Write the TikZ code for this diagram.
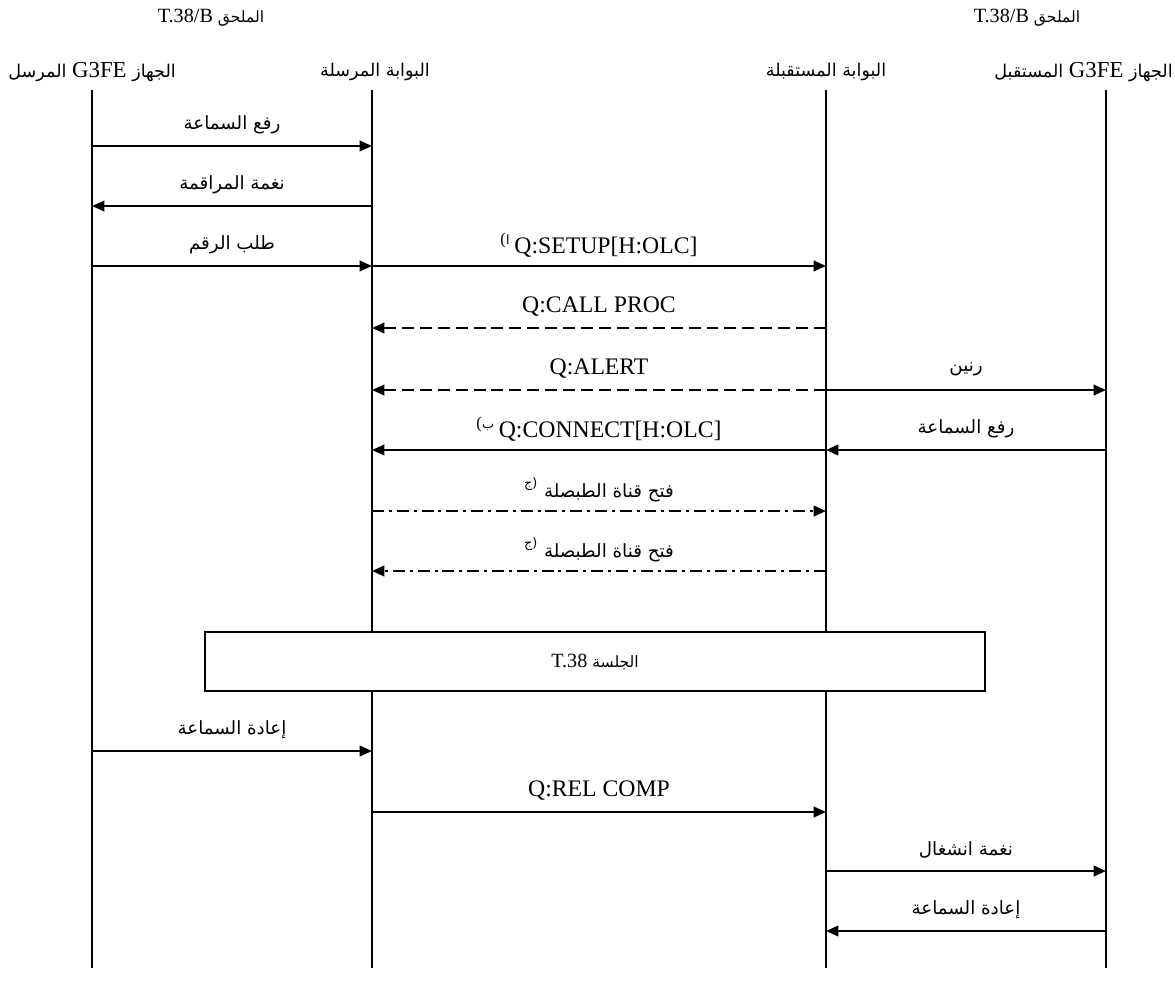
\documentclass[tikz,border=0pt]{standalone}
\usepackage{fontspec}
\setmainfont{Liberation Serif}
\newfontfamily\arabicfont[Script=Arabic,Scale=0.77]{DejaVu Sans}
\TeXXeTstate=1
\usetikzlibrary{arrows.meta}

\newcommand{\artext}[1]{{\arabicfont\beginR #1\endR}}
\newcommand{\fnmark}[1]{\textsuperscript{({\arabicfont #1}}}

\begin{document}
\begin{tikzpicture}[x=0.02cm,y=-0.02cm,font=\fontsize{13.5}{16}\selectfont,
    msg/.style={draw,line width=1.2pt,-{Triangle[length=7pt,width=6pt]}},
    reply/.style={msg,dash pattern=on 6.8pt off 3.4pt},
    chan/.style={msg,dash pattern=on 6.8pt off 2.8pt on 1.7pt off 2.8pt},
    lbl/.style={midway,yshift=12pt}]
  \useasboundingbox (0,0) rectangle (1175,992);

  % lifeline heads
  \begin{scope}[every node/.style={inner sep=0pt,font=\fontsize{13}{15}\selectfont}]
    \node[font=\fontsize{11.5}{14}\selectfont] (annexL) at (211,18) {\artext{الملحق {\rmfamily T.38/B}}};
    \node[font=\fontsize{11.5}{14}\selectfont] (annexR) at (1027,18) {\artext{الملحق {\rmfamily T.38/B}}};
    \node[anchor=west] (sender) at (8,72) {\artext{الجهاز {\rmfamily G3FE} المرسل}};
    \node (gwout) at (375,72) {\artext{البوابة المرسلة}};
    \node (gwin) at (826,72) {\artext{البوابة المستقبلة}};
    \node[anchor=east] (receiver) at (1173,72) {\artext{الجهاز {\rmfamily G3FE} المستقبل}};
  \end{scope}

  % lifelines and message rows
  \foreach \n/\x in {a/92,b/372,c/826,d/1106} {
    \coordinate (\n top) at (\x,90);
    \coordinate (\n bot) at (\x,968);
    \foreach \y [count=\i] in {146,206,266,328,390,450,511,571,751,812,871,931}
      \coordinate (\n\i) at (\x,\y);
  }
  \foreach \n in {a,b,c,d}
    \draw[line width=1pt] (\n top) -- (\n bot);

  % call setup
  \path (a1) edge[msg] node[lbl] {\artext{رفع السماعة}} (b1);
  \path (b2) edge[msg] node[lbl] {\artext{نغمة المراقمة}} (a2);
  \path (a3) edge[msg] node[lbl] {\artext{طلب الرقم}} (b3);
  \path (b3) edge[msg] node[lbl] {\fnmark{ا}\,Q:SETUP[H:OLC]} (c3);
  \path (c4) edge[reply] node[lbl] {Q:CALL PROC} (b4);
  \path (c5) edge[reply] node[lbl] {Q:ALERT} (b5);
  \path (c5) edge[msg] node[lbl] {\artext{رنين}} (d5);
  \path (c6) edge[msg] node[lbl] {\fnmark{ب}\,Q:CONNECT[H:OLC]} (b6);
  \path (d6) edge[msg] node[lbl] {\artext{رفع السماعة}} (c6);
  \path (b7) edge[chan] node[lbl] {\artext{فتح قناة الطبصلة \fnmark{ج}}} (c7);
  \path (c8) edge[chan] node[lbl] {\artext{فتح قناة الطبصلة \fnmark{ج}}} (b8);

  % fax session
  \node[draw,fill=white,line width=1.3pt,minimum width=15.6cm,minimum height=1.18cm,
        font=\fontsize{11.5}{14}\selectfont] (session) at (595,661.5)
        {\artext{الجلسة {\rmfamily T.38}}};

  % release
  \path (a9) edge[msg] node[lbl] {\artext{إعادة السماعة}} (b9);
  \path (b10) edge[msg] node[lbl] {Q:REL COMP} (c10);
  \path (c11) edge[msg] node[lbl] {\artext{نغمة انشغال}} (d11);
  \path (d12) edge[msg] node[lbl] {\artext{إعادة السماعة}} (c12);

\end{tikzpicture}
\end{document}
